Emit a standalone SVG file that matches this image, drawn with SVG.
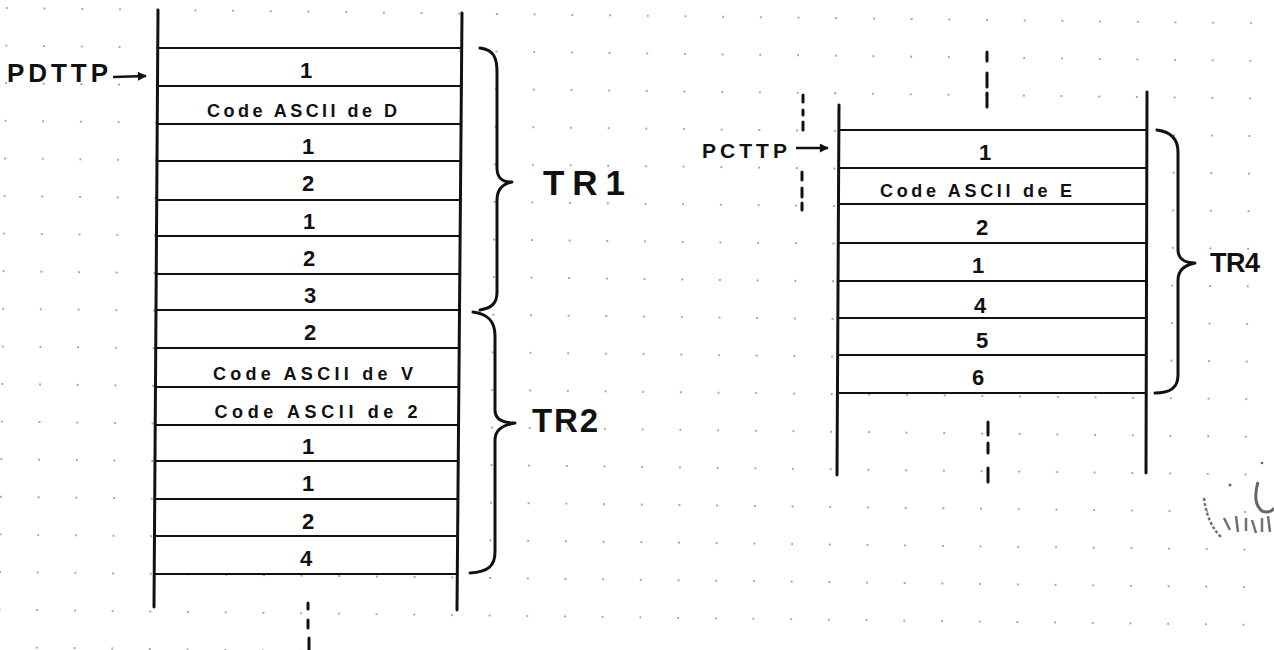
<svg xmlns="http://www.w3.org/2000/svg" width="1274" height="650" viewBox="0 0 1274 650">
  <style>
    .vline { stroke: #111; stroke-width: 3; stroke-linecap: round; fill: none; }
    .hline { stroke: #111; stroke-width: 2.2; fill: none; }
    .dash { stroke: #111; stroke-width: 3; stroke-linecap: round; fill: none; }
    .brace { stroke: #111; stroke-width: 3; fill: none; stroke-linecap: round; stroke-linejoin: round; }
    .arrow { stroke: #111; stroke-width: 2.5; fill: none; }
    .cell { font-family: "Liberation Sans", Arial, sans-serif; font-weight: bold; font-size: 22px; fill: #111; text-anchor: middle; }
    .code { font-family: "Liberation Sans", Arial, sans-serif; font-weight: bold; font-size: 18px; fill: #111; text-anchor: middle; }
    .lbl { font-family: "Liberation Sans", Arial, sans-serif; font-weight: bold; fill: #111; }
    .rowfill { fill: #fff; }
  </style>
  <defs>
    <pattern id="dots" patternUnits="userSpaceOnUse" width="37.7" height="37.6" patternTransform="rotate(0.7)">
      <circle cx="7" cy="8" r="1" fill="#8a8a8a"/>
    </pattern>
    <marker id="head" viewBox="0 0 10 10" refX="9" refY="5" markerWidth="11" markerHeight="9" orient="auto" markerUnits="userSpaceOnUse">
      <path d="M0,0 L10,5 L0,10 Z" fill="#111"/>
    </marker>
  </defs>

  <rect x="0" y="0" width="1274" height="650" fill="#fff"/>
  <rect x="0" y="0" width="1274" height="650" fill="url(#dots)"/>

  <!-- Left stack -->
  <g id="left-stack">
    <rect class="rowfill" x="157" y="48" width="302" height="526"/>
    <line class="vline" x1="158" y1="10" x2="154" y2="607"/>
    <line class="vline" x1="462" y1="13" x2="457" y2="610"/>
    <line class="hline" x1="158" y1="48" x2="461" y2="48"/>
    <line class="hline" x1="158" y1="86" x2="461" y2="86"/>
    <line class="hline" x1="157" y1="124" x2="461" y2="124"/>
    <line class="hline" x1="157" y1="161" x2="461" y2="161"/>
    <line class="hline" x1="157" y1="200" x2="460" y2="200"/>
    <line class="hline" x1="157" y1="236" x2="460" y2="236"/>
    <line class="hline" x1="157" y1="274" x2="460" y2="274"/>
    <line class="hline" x1="156" y1="310" x2="459" y2="310"/>
    <line class="hline" x1="156" y1="348" x2="459" y2="348"/>
    <line class="hline" x1="156" y1="387" x2="459" y2="387"/>
    <line class="hline" x1="155" y1="425" x2="459" y2="425"/>
    <line class="hline" x1="155" y1="461" x2="458" y2="461"/>
    <line class="hline" x1="155" y1="499" x2="458" y2="499"/>
    <line class="hline" x1="155" y1="536" x2="458" y2="536"/>
    <line class="hline" x1="155" y1="574" x2="458" y2="574"/>
    <text class="cell" x="306" y="78">1</text>
    <text class="code" x="302" y="117" textLength="190" lengthAdjust="spacing">Code ASCII de D</text>
    <text class="cell" x="308" y="154">1</text>
    <text class="cell" x="308" y="191">2</text>
    <text class="cell" x="309" y="229">1</text>
    <text class="cell" x="309" y="266">2</text>
    <text class="cell" x="310" y="303">3</text>
    <text class="cell" x="310" y="340">2</text>
    <text class="code" x="313" y="380" textLength="200" lengthAdjust="spacing">Code ASCII de V</text>
    <text class="code" x="316" y="418" textLength="203" lengthAdjust="spacing">Code ASCII de 2</text>
    <text class="cell" x="308" y="454">1</text>
    <text class="cell" x="308" y="491">1</text>
    <text class="cell" x="308" y="529">2</text>
    <text class="cell" x="306" y="566">4</text>
  </g>

  <!-- Right stack -->
  <g id="right-stack">
    <rect class="rowfill" x="839" y="130" width="307" height="263"/>
    <line class="vline" x1="839" y1="105" x2="837" y2="475"/>
    <line class="vline" x1="1147" y1="92" x2="1146" y2="473"/>
    <line class="hline" x1="840" y1="130" x2="1146" y2="130"/>
    <line class="hline" x1="840" y1="168" x2="1146" y2="168"/>
    <line class="hline" x1="840" y1="204" x2="1146" y2="204"/>
    <line class="hline" x1="839" y1="243" x2="1146" y2="243"/>
    <line class="hline" x1="839" y1="281" x2="1146" y2="281"/>
    <line class="hline" x1="839" y1="318" x2="1146" y2="318"/>
    <line class="hline" x1="839" y1="355" x2="1146" y2="355"/>
    <line class="hline" x1="839" y1="393" x2="1146" y2="393"/>
    <text class="cell" x="985" y="160">1</text>
    <text class="code" x="976" y="197" textLength="192" lengthAdjust="spacing">Code ASCII de E</text>
    <text class="cell" x="982" y="235">2</text>
    <text class="cell" x="978" y="273">1</text>
    <text class="cell" x="980" y="313">4</text>
    <text class="cell" x="982" y="348">5</text>
    <text class="cell" x="978" y="385">6</text>
  </g>

  <!-- Pointer labels -->
  <g id="pdttp">
    <text class="lbl" x="7" y="82" font-size="26" textLength="101" lengthAdjust="spacing">PDTTP</text>
  </g>
  <g id="pcttp">
    <text class="lbl" x="702" y="158" font-size="21" textLength="85" lengthAdjust="spacing">PCTTP</text>
  </g>

  <!-- Brace labels -->
  <g id="tr1">
    <path class="brace" d="M480,48 C494,50 497,58 497,72 L497,168 C497,178 502,182 512,182 C502,184 497,190 497,200 L497,292 C497,303 492,308 480,310"/>
    <text class="lbl" x="543" y="195" font-size="35" textLength="82" lengthAdjust="spacing">TR1</text>
  </g>
  <g id="tr2">
    <path class="brace" d="M473,312 C489,314 495,322 495,336 L495,410 C495,419 502,423 515,423 C502,425 495,430 495,440 L495,552 C495,566 488,572 470,573"/>
    <text class="lbl" x="532" y="432" font-size="33" textLength="66" lengthAdjust="spacing">TR2</text>
  </g>
  <g id="tr4">
    <path class="brace" d="M1157,130 C1172,132 1178,140 1178,152 L1178,250 C1178,259 1185,263 1195,263 C1185,265 1178,270 1178,280 L1178,375 C1178,388 1170,393 1155,393"/>
    <text class="lbl" x="1210" y="272" font-size="27" textLength="50" lengthAdjust="spacing">TR4</text>
  </g>

  <!-- Connectors: pointer arrows and continuation dashes -->
  <g id="connectors">
    <line class="arrow" x1="113" y1="77" x2="146" y2="76" marker-end="url(#head)"/>
    <line class="arrow" x1="796" y1="148" x2="828" y2="148" marker-end="url(#head)"/>
    <path class="dash" d="M308,603 L308,609 M308,620 L308,628 M309,638 L309,650"/>
    <path class="dash" d="M987,52 L987,61 M987,73 L987,87 M987,93 L987,107"/>
    <path class="dash" d="M803,95 L803,102 M803,110 L803,115 M803,122 L803,130 M802,172 L802,180 M802,188 L802,197 M802,203 L802,210"/>
    <path class="dash" d="M988,422 L988,435 M988,443 L988,453 M988,468 L988,482"/>
  </g>

  <!-- Scan stamp fragment -->
  <g id="stamp" opacity="0.75">
    <path d="M1204,498 Q1207,524 1222,538" stroke="#444" stroke-width="2.5" fill="none" stroke-dasharray="3 2"/>
    <path d="M1258,482 Q1252,503 1262,511 Q1270,514 1274,508" stroke="#333" stroke-width="3" fill="none"/>
    <path d="M1224,518 L1230,530 M1236,516 L1238,532 M1246,518 L1246,531 M1252,520 L1256,533 M1262,518 L1262,532 M1268,516 L1270,532" stroke="#444" stroke-width="2.5" fill="none"/>
    <circle cx="1230" cy="485" r="1.5" fill="#333"/>
    <circle cx="1262" cy="463" r="1.3" fill="#333"/>
  </g>
</svg>
